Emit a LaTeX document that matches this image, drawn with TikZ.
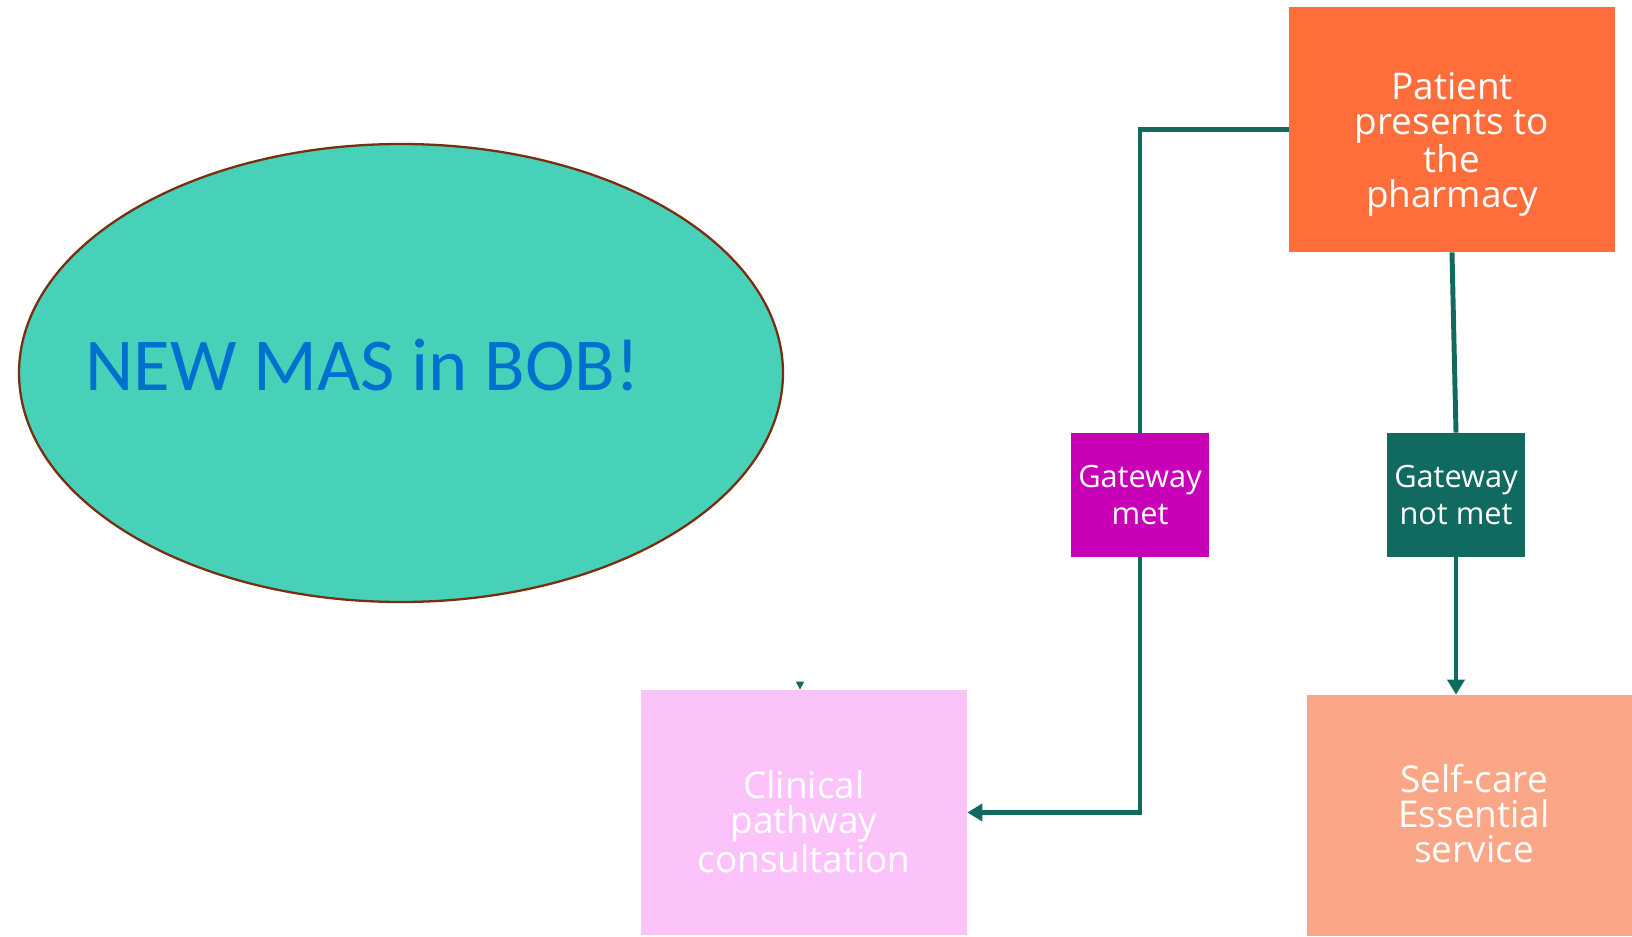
\documentclass[tikz,border=0pt]{standalone}
\usepackage{fontspec}
\setmainfont{Open Sans}
\newfontfamily\bobfont{Carlito}
\usetikzlibrary{shapes.geometric,arrows.meta}
\definecolor{flowteal}{HTML}{116A5F}
\definecolor{patientorange}{HTML}{FF6D3B}
\definecolor{gatemagenta}{HTML}{C800B8}
\definecolor{clinicalpink}{HTML}{FCC3FA}
\definecolor{selfsalmon}{HTML}{FCA688}
\definecolor{bobteal}{HTML}{48D1B9}
\definecolor{bobbrown}{HTML}{7A2E10}
\definecolor{bobblue}{HTML}{0070D0}

\begin{document}
\begin{tikzpicture}[
    box/.style={rectangle, inner sep=0pt, minimum width=6.52cm, minimum height=4.9cm},
    boxtext/.style={inner sep=0pt, text=white, align=center, font=\fontsize{21}{19.9}\selectfont},
    gate/.style={rectangle, inner sep=0pt, text=white, align=center,
        minimum width=2.76cm, minimum height=2.48cm, font=\fontsize{17.5}{21.5}\selectfont},
    flow/.style={draw=flowteal, line width=2.8pt},
    tip/.style={-{Triangle[width=0.34cm,length=0.3cm]}}
]
    \useasboundingbox (0,0) rectangle (32.64,18.72);

    \node[ellipse, draw=bobbrown, line width=1.3pt, fill=bobteal,
        minimum width=15.28cm, minimum height=9.16cm] (bob) at (8.02,11.26) {};
    \node[anchor=base west, inner sep=0pt, text=bobblue,
        font=\bobfont\fontsize{42.5}{42.5}\selectfont] (bobtext) at (1.70,10.92) {NEW MAS in BOB!};

    \node[box, fill=patientorange] (patient) at (29.04,16.13) {};
    \node[boxtext] (patienttext) at ([yshift=-0.3cm]patient.center) {Patient\\presents to\\the\\pharmacy};
    \node[gate, fill=gatemagenta] (gmet) at (22.8,8.82) {Gateway\\met};
    \node[gate, fill=flowteal] (gnot) at (29.12,8.82) {Gateway\\not met};
    \node[box, fill=clinicalpink] (clinical) at (16.08,2.47) {};
    \node[boxtext] (clinicaltext) at ([yshift=-0.18cm]clinical.center) {Clinical\\pathway\\consultation};
    \node[box, fill=selfsalmon, minimum width=6.5cm, minimum height=4.82cm] (selfcare) at (29.39,2.41) {};
    \node[boxtext] (selfcaretext) at ([xshift=0.09cm,yshift=0.04cm]selfcare.center) {Self-care\\Essential\\service};

    \draw[flow] (patient.west) -| (gmet.north);
    \draw[flow,tip] (gmet.south) |- (clinical.east);
    \draw[flow] (patient.south) -- (gnot.north);
    \draw[flow,tip] (gnot.south) -- (gnot.south |- selfcare.north);

    \coordinate (stub) at (16.0,5.08);
    \draw[draw=flowteal, line width=0.4pt, -{Triangle[width=0.16cm,length=0.16cm]}] (stub) -- (stub |- clinical.north);
\end{tikzpicture}
\end{document}
